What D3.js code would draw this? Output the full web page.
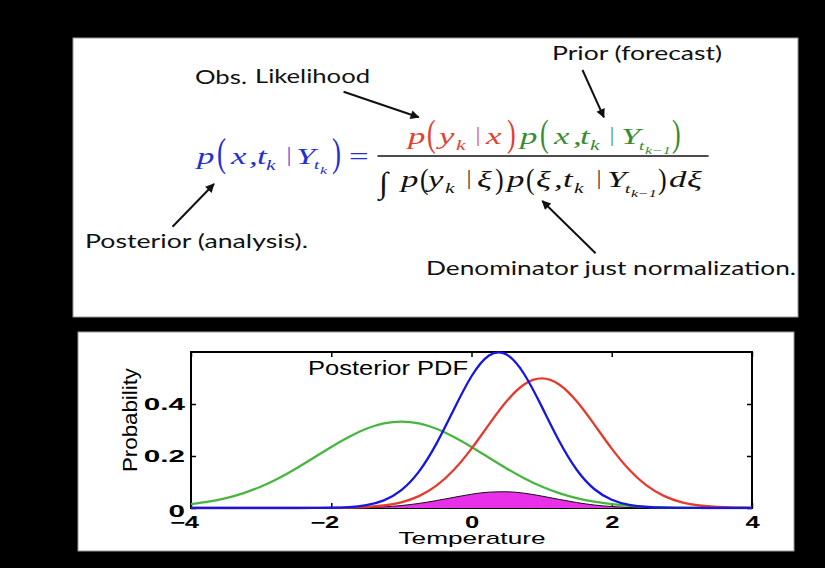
<!DOCTYPE html>
<html><head><meta charset="utf-8">
<script src="https://cdn.jsdelivr.net/npm/d3@7"></script>
<style>html,body{margin:0;padding:0;background:#000;} svg{display:block;}</style>
</head><body>
<svg id="c" width="825" height="568"></svg>
<script>
// ---------------- DATA ----------------
const temperature = [-4,-3.75,-3.5,-3.25,-3,-2.75,-2.5,-2.25,-2,-1.75,-1.5,-1.25,-1,-0.75,-0.5,-0.25,0,0.25,0.5,0.75,1,1.25,1.5,1.75,2,2.25,2.5,2.75,3,3.25,3.5,3.75,4];
// green: prior (forecast)
const priorForecast = [0.0146,0.0241,0.0380,0.0573,0.0829,0.1148,0.1522,0.1932,0.2349,0.2734,0.3048,0.3253,0.3324,0.3253,0.3048,0.2734,0.2349,0.1932,0.1522,0.1148,0.0829,0.0573,0.0380,0.0241,0.0146,0.0085,0.0047,0.0025,0.0013,0.0006,0.0003,0.0001,0.0001];
// red: observation likelihood
const obsLikelihood = [0,0,0,0,0,0,0,0.0001,0.0004,0.0014,0.0038,0.0096,0.0219,0.0456,0.0860,0.1471,0.2283,0.3214,0.4102,0.4750,0.4987,0.4750,0.4102,0.3214,0.2283,0.1471,0.0860,0.0456,0.0219,0.0096,0.0038,0.0014,0.0004];
// blue: posterior (analysis)
const posterior = [0,0,0,0,0,0,0,0.0002,0.0010,0.0035,0.0109,0.0293,0.0688,0.1399,0.2475,0.3800,0.5067,0.5868,0.5901,0.5154,0.3909,0.2575,0.1472,0.0731,0.0316,0.0118,0.0038,0.0011,0.0003,0.0001,0,0,0];
// magenta: un-normalised posterior (numerator)
const numerator = [0,0,0,0,0,0,0,0,0.0002,0.0006,0.0018,0.0045,0.0095,0.0175,0.0285,0.0410,0.0530,0.0610,0.0625,0.0570,0.0460,0.0330,0.0210,0.0115,0.0055,0.0022,0.0008,0.0002,0,0,0,0,0];
const xTicks = [-4,-2,0,2,4];
const xTickLabels = ["\u22124","\u22122","0","2","4"];
const yTicks = [0,0.2,0.4];
const yTickLabels = ["0","0.2","0.4"];

// ---------------- SETUP ----------------
const svg = d3.select("#c");
svg.append("rect").attr("width",825).attr("height",568).attr("fill","#000");
svg.append("rect").attr("x",73).attr("y",38).attr("width",725).attr("height",279)
  .attr("fill","#fff").attr("stroke","#9a9a9a").attr("stroke-width",1);
svg.append("rect").attr("x",78).attr("y",332).attr("width",716).attr("height",219)
  .attr("fill","#fff").attr("stroke","#9a9a9a").attr("stroke-width",1);

function fit(sel, factor){
  sel.each(function(){
    const w = this.getComputedTextLength();
    d3.select(this).attr("textLength", w*factor).attr("lengthAdjust","spacingAndGlyphs");
  });
}

// ---------------- EQUATION PANEL ----------------
const defs = svg.append("defs");
defs.append("marker").attr("id","ah").attr("viewBox","0 0 10 10")
  .attr("refX",9).attr("refY",5).attr("markerWidth",12).attr("markerHeight",9)
  .attr("markerUnits","userSpaceOnUse").attr("orient","auto")
  .append("path").attr("d","M0,0 L10,5 L0,10 z").attr("fill","#111");

const notes = [
  ["Prior (forecast)",552,60,170],
  ["Obs.",195,83.5,52],
  ["Likelihood",255,83,115],
  ["Posterior (analysis).",85,248,223],
  ["Denominator just normalization.",426,275,370]
];
svg.selectAll("text.note").data(notes).join("text").attr("class","note")
  .attr("x",d=>d[1]).attr("y",d=>d[2])
  .attr("font-family","Lato, 'Open Sans', sans-serif").attr("font-size",20).attr("fill","#111")
  .attr("textLength",d=>d[3]).attr("lengthAdjust","spacingAndGlyphs")
  .text(d=>d[0]);

const arrows = [[343.6,91.7,418.7,117.3],[582.5,70,603.9,117.3],[172.5,226.7,214,184],[595.6,253.3,542.3,201]];
svg.selectAll("line.arr").data(arrows).join("line").attr("class","arr")
  .attr("x1",d=>d[0]).attr("y1",d=>d[1]).attr("x2",d=>d[2]).attr("y2",d=>d[3])
  .attr("stroke","#111").attr("stroke-width",2).attr("marker-end","url(#ah)");

const B="#1f30d4", R="#e3402f", G="#3a8c30", K="#111";
// [text, x, baseline, size, colour, upright, hscale, vscale]
const eq = [
  ["p",197,163.5,24,B],["(",217,166,27,B,1,1.0,1.45],["x",231,163.5,24,B],[",",249,163.5,24,B],
  ["t",257,163.5,24,B],["k",266,169.5,15,B],["|",287,160.5,20,B,1,1.0],["Y",296,163.5,24,B],
  ["t",314,169,13,B],["k",320,173.5,11,B],[")",332,166,27,B,1,1.0,1.45],["=",349,163.5,24,B,1],
  ["p",408,144,24,R],["(",427,146,26,R,1,1.0,1.45],["y",439,144,24,R],["k",456,150,15,R],
  ["|",476,141,20,R,1,1.0],["x",486,144,24,R],[")",507,146,26,R,1,1.0,1.45],
  ["p",520,144,24,G],["(",540,146,26,G,1,1.0,1.45],["x",554,144,24,G],[",",573,144,24,G],
  ["t",580,144,24,G],["k",590,150,15,G],["|",610,141,20,G,1,1.0],["Y",621,144,24,G],
  ["t",639,149.5,13,G],["k\u22121",645,153.5,11,G],[")",672,146,26,G,1,1.0,1.45],
  ["\u222B",379,193,30,K,1,1.1],["p",401,187,24,K],["(",420,188.5,26,K,1,1.0,1.1],["y",428,187,24,K],
  ["k",445,193,15,K],["|",467,184,20,K,1,1.0],["\u03BE",477,187,24,K],[")",495,188.5,26,K,1,1.0,1.1],
  ["p",507,187,24,K],["(",526,188.5,26,K,1,1.0,1.1],["\u03BE",536,187,24,K],[",",554,187,24,K],
  ["t",563,187,24,K],["k",574,193,15,K],["|",597,184,20,K,1,1.0],["Y",607,187,24,K],
  ["t",625,192.5,13,K],["k\u22121",631,196.5,11,K],[")",658,188.5,26,K,1,1.0,1.1],["d",669,187,24,K],
  ["\u03BE",687,187,24,K]
];
svg.selectAll("text.eq").data(eq).join("text").attr("class","eq")
  .attr("transform",d=>`translate(${d[1]},${d[2]}) scale(${d[6]||1.45},${d[7]||1})`)
  .attr("font-family","'Liberation Serif','Times New Roman',serif")
  .attr("font-style",d=>d[5]?"normal":"italic")
  .attr("font-size",d=>d[3]).attr("fill",d=>d[4]).text(d=>d[0]);
svg.append("line").attr("x1",377.5).attr("x2",708.6).attr("y1",156).attr("y2",156)
  .attr("stroke","#111").attr("stroke-width",1.5);

// ---------------- CHART PANEL ----------------
const m = {left:191,right:752,top:352,bottom:508};
const x = d3.scaleLinear().domain([-4,4]).range([m.left,m.right]);
const y = d3.scaleLinear().domain([0,0.6]).range([m.bottom,m.top]);

svg.append("rect").attr("x",m.left).attr("y",m.top).attr("width",m.right-m.left).attr("height",m.bottom-m.top)
  .attr("fill","none").attr("stroke","#000").attr("stroke-width",2);

function styleAxis(g){
  g.select(".domain").remove();
  g.selectAll(".tick line").attr("stroke","#000").attr("stroke-width",1.5);
  g.attr("font-family","'Liberation Sans',Arial,sans-serif").attr("font-size",16).attr("font-weight","bold");
  g.selectAll(".tick text").attr("fill","#000");
}
const gx = svg.append("g").attr("transform",`translate(0,${m.bottom})`)
  .call(d3.axisBottom(x).tickValues(xTicks).tickFormat((d,i)=>xTickLabels[i]).tickSizeInner(-5).tickSizeOuter(0).tickPadding(9));
styleAxis(gx);
gx.selectAll(".tick text").attr("dx",(d,i)=>xTickLabels[i].startsWith("\u2212")?-7:0);
fit(gx.selectAll(".tick text"),1.6);

const gy = svg.append("g").attr("transform",`translate(${m.left},0)`)
  .call(d3.axisLeft(y).tickValues(yTicks).tickFormat((d,i)=>yTickLabels[i]).tickSizeInner(-5).tickSizeOuter(0).tickPadding(6));
styleAxis(gy);
gy.selectAll(".tick text").attr("dy",(d,i)=>i===0?"0.55em":"0.32em");
fit(gy.selectAll(".tick text"),1.85);

const gt = svg.append("g").attr("transform",`translate(0,${m.top})`)
  .call(d3.axisTop(x).tickValues(xTicks).tickFormat("").tickSizeInner(-5).tickSizeOuter(0));
styleAxis(gt);
const gr = svg.append("g").attr("transform",`translate(${m.right},0)`)
  .call(d3.axisRight(y).tickValues(yTicks).tickFormat("").tickSizeInner(-5).tickSizeOuter(0));
styleAxis(gr);

defs.append("clipPath").attr("id","plotclip").append("rect")
  .attr("x",m.left).attr("y",m.top-1).attr("width",m.right-m.left).attr("height",m.bottom-m.top+2.5);
const plot = svg.append("g").attr("clip-path","url(#plotclip)");

const area = d3.area().x((d,i)=>x(temperature[i])).y0(y(0)).y1(d=>y(Math.max(0,d))).curve(d3.curveMonotoneX);
const line = d3.line().x((d,i)=>x(temperature[i])).y(d=>y(d)).curve(d3.curveNatural);
const lineM = d3.line().x((d,i)=>x(temperature[i])).y(d=>y(d)).curve(d3.curveMonotoneX);

plot.append("path").datum(numerator).attr("d",area).attr("fill","#e830e8");
plot.append("path").datum(numerator).attr("d",lineM).attr("fill","none").attr("stroke","#111").attr("stroke-width",1);

const series = [[priorForecast,"#47b63f"],[obsLikelihood,"#e63a2e"],[posterior,"#1515e6"]];
plot.selectAll("path.s").data(series).join("path").attr("class","s")
  .attr("d",d=>line(d[0])).attr("fill","none").attr("stroke",d=>d[1]).attr("stroke-width",2.3)
  .attr("stroke-linejoin","round");

svg.append("text").attr("x",308).attr("y",375)
  .attr("font-family","'Liberation Sans',Arial,sans-serif").attr("font-size",20).attr("fill","#000")
  .attr("textLength",160).attr("lengthAdjust","spacingAndGlyphs").text("Posterior PDF");
svg.append("text").attr("x",472).attr("y",544).attr("text-anchor","middle")
  .attr("font-family","'Liberation Sans',Arial,sans-serif").attr("font-size",17).attr("fill","#000")
  .attr("textLength",147).attr("lengthAdjust","spacingAndGlyphs").text("Temperature");
svg.append("text").attr("transform","translate(137,420) rotate(-90)").attr("text-anchor","middle")
  .attr("font-family","'Liberation Sans',Arial,sans-serif").attr("font-size",21).attr("fill","#000")
  .attr("textLength",104).attr("lengthAdjust","spacingAndGlyphs").text("Probability");
</script>
</body></html>
